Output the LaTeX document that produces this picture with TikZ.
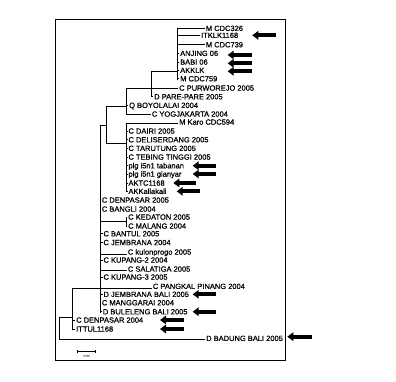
\documentclass[tikz,border=0pt]{standalone}
\usepackage{fontspec}
\setmainfont{Liberation Sans}[FakeBold=0.7,BoldFont={Liberation Sans},BoldFeatures={FakeBold=0.7}]
\usetikzlibrary{arrows.meta}
\tikzset{
  lbl/.style={anchor=west, inner xsep=1pt, inner ysep=0pt, text height=5.3pt, text depth=0pt, font=\fontsize{7.5}{8}\selectfont\bfseries},
  br/.style={line width=0.8pt, line cap=rect},
  ptr/.style={line width=4.3pt, -{Triangle[length=6pt,width=8.5pt]}},
  frame/.style={line width=0.9pt}
}
\begin{document}
\begin{tikzpicture}[x=1pt,y=-1pt]
\useasboundingbox (0,0) rectangle (396,382);
\draw[frame] (55,19) rectangle (285.7,360);
% leaves
\node[lbl] (mcdc326) at (204.7,28.3) {M CDC326};
\node[lbl] (itklk) at (200,35.3) {ITKLK1168};
\node[lbl] (mcdc739) at (204.7,44.7) {M CDC739};
\node[lbl] (anjing) at (179,53.3) {ANJING 06};
\node[lbl] (babi) at (179,62) {BABI 06};
\node[lbl] (akklk) at (179,70.3) {AKKLK};
\node[lbl] (mcdc759) at (179,78.7) {M CDC759};
\node[lbl] (purwo) at (178,88) {C PURWOREJO 2005};
\node[lbl] (pare) at (153,96.7) {D PARE-PARE 2005};
\node[lbl] (boyo) at (128,105.3) {Q BOYOLALAI 2004};
\node[lbl] (yogja) at (150.7,114) {C YOGJAKARTA 2004};
\node[lbl] (karo) at (178,122) {M Karo CDC594};
\node[lbl] (dairi) at (127.3,131) {C DAIRI 2005};
\node[lbl] (deli) at (127.3,139.7) {C DELISERDANG 2005};
\node[lbl] (tarutung) at (127.3,148.3) {C TARUTUNG 2005};
\node[lbl] (tebing) at (127.3,157) {C TEBING TINGGI 2005};
\node[lbl] (tabanan) at (127.3,165.7) {plg i5n1 tabanan};
\node[lbl] (gianyar) at (127.3,174) {plg i5n1 gianyar};
\node[lbl] (aktc) at (127.3,183) {AKTC1168};
\node[lbl] (akkal) at (127.3,191.3) {AKKallakali};
\node[lbl] (denp05) at (100.7,200) {C DENPASAR 2005};
\node[lbl] (bangli) at (100.7,209) {C BANGLI 2004};
\node[lbl] (kedaton) at (127,217) {C KEDATON 2005};
\node[lbl] (malang) at (127,226) {C MALANG 2004};
\node[lbl] (bantul) at (102.3,233.7) {C BANTUL 2005};
\node[lbl] (jembrana) at (102.3,242.5) {C JEMBRANA 2004};
\node[lbl] (kulon) at (126.7,252) {C kulonprogo 2005};
\node[lbl] (kupang2) at (102.3,260) {C KUPANG-2 2004};
\node[lbl] (salatiga) at (126.7,269) {C SALATIGA 2005};
\node[lbl] (kupang3) at (102.3,277) {C KUPANG-3 2005};
\node[lbl] (pangkal) at (151.7,286.3) {C PANGKAL PINANG 2004};
\node[lbl] (djembrana) at (102.3,294.3) {D JEMBRANA BALI 2005};
\node[lbl] (manggarai) at (100.7,302.7) {C MANGGARAI 2004};
\node[lbl] (buleleng) at (101.7,311.7) {D BULELENG BALI 2005};
\node[lbl] (denp04) at (75,320) {C DENPASAR 2004};
\node[lbl] (ittul) at (75,329) {ITTUL1168};
\node[lbl] (badung) at (205,338.3) {D BADUNG BALI 2005};
% internal nodes
\coordinate (kA) at (177,28.5);
\coordinate (kAb) at (177,79.5);
\coordinate (kB) at (151.7,71.7);
\coordinate (kBb) at (151.7,97);
\coordinate (kC) at (126,88.5);
\coordinate (kCb) at (126,114.5);
\coordinate (kD) at (106,106);
\coordinate (kDb) at (106,143);
\coordinate (kE) at (126,123);
\coordinate (kEb) at (126,191.5);
\coordinate (kF) at (100,125);
\coordinate (kFb) at (100,312.5);
\coordinate (kG) at (126,217);
\coordinate (kGb) at (126,227);
\coordinate (kH) at (72.5,288.5);
\coordinate (kHb) at (72.5,330);
\coordinate (kI) at (59.5,317.7);
\coordinate (kIb) at (59.5,339);
% verticals
\draw[br] (kA) -- (kAb);
\draw[br] (kB) -- (kBb);
\draw[br] (kC) -- (kCb);
\draw[br] (kD) -- (kDb);
\draw[br] (kE) -- (kEb);
\draw[br] (kF) -- (kFb);
\draw[br] (kG) -- (kGb);
\draw[br] (kH) -- (kHb);
\draw[br] (kI) -- (kIb);
% internal connectors
\draw[br] (kB) -- (kA |- kB);
\draw[br] (kD |- kC) ++(0,17.5) coordinate (dC) -- (kC |- dC);
\draw[br] (kDb) -- (kE |- kDb);
\draw[br] (kF) -- (kD |- kF);
\draw[br] (kF |- kG) ++(0,4.7) coordinate (fG) -- (kG |- fG);
\draw[br] (kI) -- (kH |- kI);
% leaf branches
\foreach \n in {mcdc326,itklk,mcdc739,anjing,babi,akklk,mcdc759}
  \draw[br] (kA |- \n.west) -- (\n.west);
\draw[br] (kC |- purwo.west) ++(0,0.5) coordinate (pw) -- (purwo.west |- pw);
\draw[br] (kB |- pare.west) -- (pare.west);
\draw[br] (kC |- boyo.west) -- (boyo.west);
\draw[br] (kC |- yogja.west) ++(0,0.5) coordinate (yg) -- (yogja.west |- yg);
\draw[br] (kE) -- (karo.west |- kE);
\foreach \n in {dairi,deli,tarutung,tebing,tabanan,gianyar,aktc,akkal}
  \draw[br] (kE |- \n.west) -- (\n.west);
\foreach \n in {denp05,bangli,bantul,jembrana,kupang2,kupang3,djembrana,manggarai,buleleng}
  \draw[br] (kF |- \n.west) -- (\n.west);
\foreach \n in {kedaton,malang}
  \draw[br] (kG |- \n.west) -- (\n.west);
\draw[br] (kF |- kulon.west) ++(0,2) coordinate (kl) -- (kulon.west |- kl);
\draw[br] (kF |- salatiga.west) ++(0,1.7) coordinate (sl) -- (salatiga.west |- sl);
\draw[br] (kH) -- (pangkal.west |- kH);
\foreach \n in {denp04,ittul}
  \draw[br] (kH |- \n.west) -- (\n.west);
\draw[br] (kIb) -- (badung.west |- kIb);
% pointer arrows
\foreach \n/\tip/\tail/\y in {itklk/252.3/276/35.3, anjing/227.7/251.7/55, babi/227.7/251.7/63.3, akklk/227.7/251.7/71.3,
  tabanan/192.7/216/165.7, gianyar/192.7/216/174, aktc/173.3/196/183, akkal/176.7/200/191.3,
  djembrana/192.7/216/294.3, buleleng/192.7/216/311.7, denp04/160/184/320, ittul/160/184/329, badung/287.3/312/336.7}{
  \coordinate (t-\n) at (\tip,\y);
  \coordinate (s-\n) at (\tail,\y);
  \draw[ptr] (s-\n) -- (t-\n);
}
% scale bar
\coordinate (sb1) at (77.3,351.7);
\coordinate (sb2) at (95.7,351.7);
\draw[line width=0.7pt] (sb1) -- (sb2);
\draw[line width=0.6pt] ([yshift=-1.6pt]sb1) -- ([yshift=1.6pt]sb1);
\draw[line width=0.6pt] ([yshift=-1.6pt]sb2) -- ([yshift=1.6pt]sb2);
\node[font=\fontsize{2.5}{3}\selectfont, text=gray, inner sep=0pt] (sbl) at (86.5,355.8) {0.005};
\end{tikzpicture}
\end{document}
